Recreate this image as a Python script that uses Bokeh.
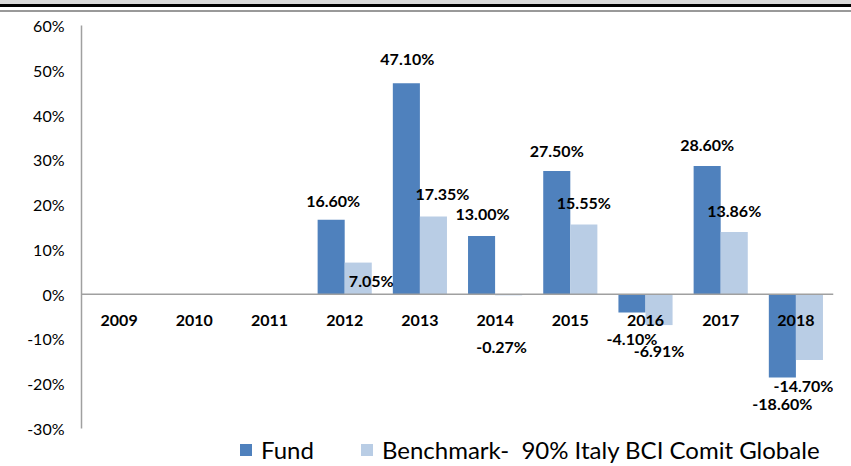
from bokeh.plotting import figure
from bokeh.models import (ColumnDataSource, FactorRange, Range1d, Span, FixedTicker,
                          PrintfTickFormatter, Legend, LegendItem, Div, LabelSet)
from bokeh.layouts import column
from bokeh.transform import dodge
from bokeh.core.properties import value
from bokeh.embed import file_html
from bokeh.resources import INLINE

# ---- data ----
years = ["2009", "2010", "2011", "2012", "2013", "2014", "2015", "2016", "2017", "2018"]
fund = [None, None, None, 16.60, 47.10, 13.00, 27.50, -4.10, 28.60, -18.60]
benchmark = [None, None, None, 7.05, 17.35, -0.27, 15.55, -6.91, 13.86, -14.70]
y_ticks = [-30, -20, -10, 0, 10, 20, 30, 40, 50, 60]
series_names = ["Fund", "Benchmark-  90% Italy BCI Comit Globale"]

# ---- label nudges (screen px, up positive) ----
fund_dy = [0, 0, 0, 19, 25, 22, 21, -26, 22, -26]
fund_dx = [0, 0, 0, 2, 1, 1, 0, 0, 0, 0]
bench_dy = [0, 0, 0, -18, 23, -51, 22, -25, 22, -26]
bench_dx = [0, 0, 0, 13, 9, -7, 0, 0, 0, -6]

FUND_C = "#4f81bd"
BENCH_C = "#b9cde5"
FONT = "Lato"
BAR_W = 0.36

p = figure(x_range=FactorRange(factors=years, range_padding=0),
           y_range=Range1d(-38.49, 62.90),
           width=851, height=454, output_backend="svg", toolbar_location=None,
           x_axis_location=None, min_border=0, min_border_left=81,
           min_border_right=18, min_border_top=0, min_border_bottom=0)
p.outline_line_color = None
p.grid.visible = False
p.background_fill_color = "white"
p.border_fill_color = "white"

ax = p.yaxis[0]
ax.ticker = FixedTicker(ticks=y_ticks)
ax.formatter = PrintfTickFormatter(format="%d%%")
ax.bounds = (min(y_ticks), max(y_ticks))
ax.axis_line_color = "#a0a0a0"
ax.axis_line_width = 1.5
ax.major_tick_out = 0
ax.major_tick_in = 0
ax.minor_tick_out = 0
ax.minor_tick_in = 0
ax.major_label_standoff = 17
ax.major_label_text_font = FONT
ax.major_label_text_font_size = "16px"
ax.major_label_text_color = "#000000"

src = ColumnDataSource(dict(
    year=years,
    fund=[float("nan") if v is None else v for v in fund],
    bench=[float("nan") if v is None else v for v in benchmark],
))

r_fund = p.vbar(x=dodge("year", -BAR_W / 2, range=p.x_range), top="fund", bottom=0,
                width=BAR_W, source=src, fill_color=FUND_C, line_color=None)
r_bench = p.vbar(x=dodge("year", BAR_W / 2, range=p.x_range), top="bench", bottom=0,
                 width=BAR_W, source=src, fill_color=BENCH_C, line_color=None)

zero = Span(location=0, dimension="width", line_color="#a0a0a0", line_width=1.5)
p.add_layout(zero)


def label_source(vals, dy, dx):
    xs, ys, txt, yo, xo = [], [], [], [], []
    for yr, v, d, e in zip(years, vals, dy, dx):
        if v is None:
            continue
        xs.append(yr)
        ys.append(v)
        txt.append(f"{v:.2f}%")
        yo.append(d)
        xo.append(e)
    return ColumnDataSource(dict(year=xs, val=ys, label=txt, yoff=yo, xoff=xo))


label_style = dict(text_font=value(FONT), text_font_style="bold", text_font_size="16px",
                   text_color="#000000", text_align="center", text_baseline="middle")

p.add_layout(LabelSet(x=dodge("year", -BAR_W / 2, range=p.x_range), y="val", text="label",
                      y_offset="yoff", x_offset="xoff",
                      source=label_source(fund, fund_dy, fund_dx), **label_style))
p.add_layout(LabelSet(x=dodge("year", BAR_W / 2, range=p.x_range), y="val", text="label",
                      y_offset="yoff", x_offset="xoff",
                      source=label_source(benchmark, bench_dy, bench_dx), **label_style))

# category labels just below the zero line
ysrc = ColumnDataSource(dict(year=years, zero=[0] * len(years)))
p.text(x="year", y="zero", text="year", y_offset=26, source=ysrc,
       text_font=value(FONT), text_font_style="bold", text_font_size="16px",
       text_color="#000000", text_align="center", text_baseline="middle")

legend = Legend(items=[LegendItem(label=series_names[0], renderers=[r_fund]),
                       LegendItem(label=series_names[1], renderers=[r_bench])],
                orientation="horizontal", location=(157, 2),
                glyph_width=15, glyph_height=15, label_standoff=8, spacing=45,
                padding=0, margin=0, border_line_color=None, background_fill_alpha=0,
                label_text_font=FONT, label_text_font_size="24px",
                label_text_color="#000000")
p.add_layout(legend)

top_band = Div(width=851, height=12, margin=(0, 0, 0, 0), text=(
    '<div style="width:851px;height:4px;background:#d9d9d9"></div>'
    '<div style="width:851px;height:3px;background:#000000"></div>'
    '<div style="width:851px;height:3px;background:#ffffff"></div>'
    '<div style="width:851px;height:2px;background:#999999"></div>'))

layout = column(top_band, p, spacing=0)
open("out.html", "w").write(file_html(layout, INLINE))
